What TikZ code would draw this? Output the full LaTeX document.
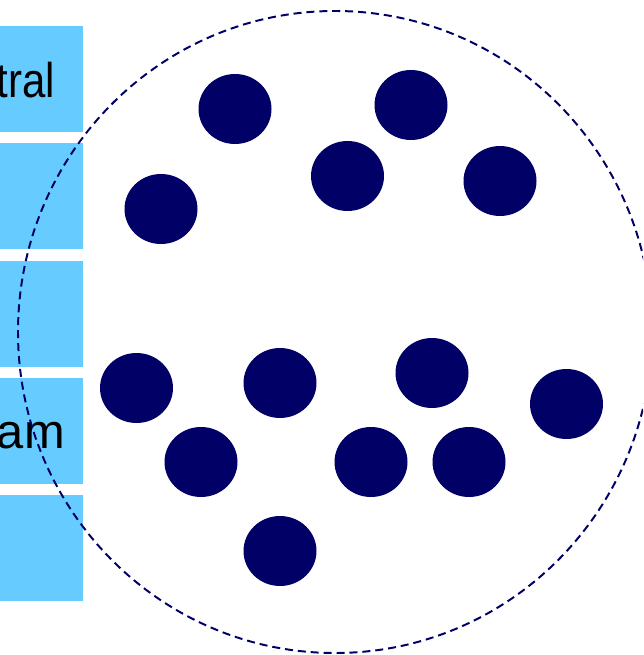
\documentclass[tikz,border=0pt]{standalone}
\usepackage{fontspec}
\setmainfont{Liberation Sans}
\usepackage{tikz}
\usetikzlibrary{positioning}
\definecolor{navy}{HTML}{000066}
\definecolor{skyblue}{HTML}{66CCFF}
\newcommand\particle[1]{%
\fill[navy] (#1) ellipse (36.5 and 35);
}
\begin{document}
\begin{tikzpicture}[x=0.025cm,y=-0.025cm]
	%% frame of the picture
	\useasboundingbox (0,0) rectangle (643,655);
	\clip (0,0) rectangle (643,655);

	\def\boxW{83} % right edge of the boxes
	\def\boxH{106} % box height

	% the boxes on the left
	\foreach \top in {26,143,261,378,495}
		\fill[skyblue] (-100,\top) rectangle (\boxW,\top+\boxH);

	\node[anchor=base east, inner sep=0pt, font=\fontsize{34.7pt}{40pt}\selectfont] (tral) at (55,98) {\scalebox{0.86}[1]{tral}};
	\node[anchor=base east, inner sep=0pt, font=\fontsize{34.7pt}{40pt}\selectfont] (am) at (65,448) {am};

	% the dashed boundary
	\draw[navy, line width=1.4pt, dash pattern=on 5.7pt off 3.5pt] (335,332) ellipse (317 and 321);

	% upper group
	\particle{235,109}
	\particle{411,105}
	\particle{347.5,176}
	\particle{500,181}
	\particle{161,209}

	% lower group
	\particle{136.5,388}
	\particle{280,383}
	\particle{432,373}
	\particle{566.5,404}
	\particle{201,462}
	\particle{371,462}
	\particle{469,462}
	\particle{280,551}
\end{tikzpicture}
\end{document}
